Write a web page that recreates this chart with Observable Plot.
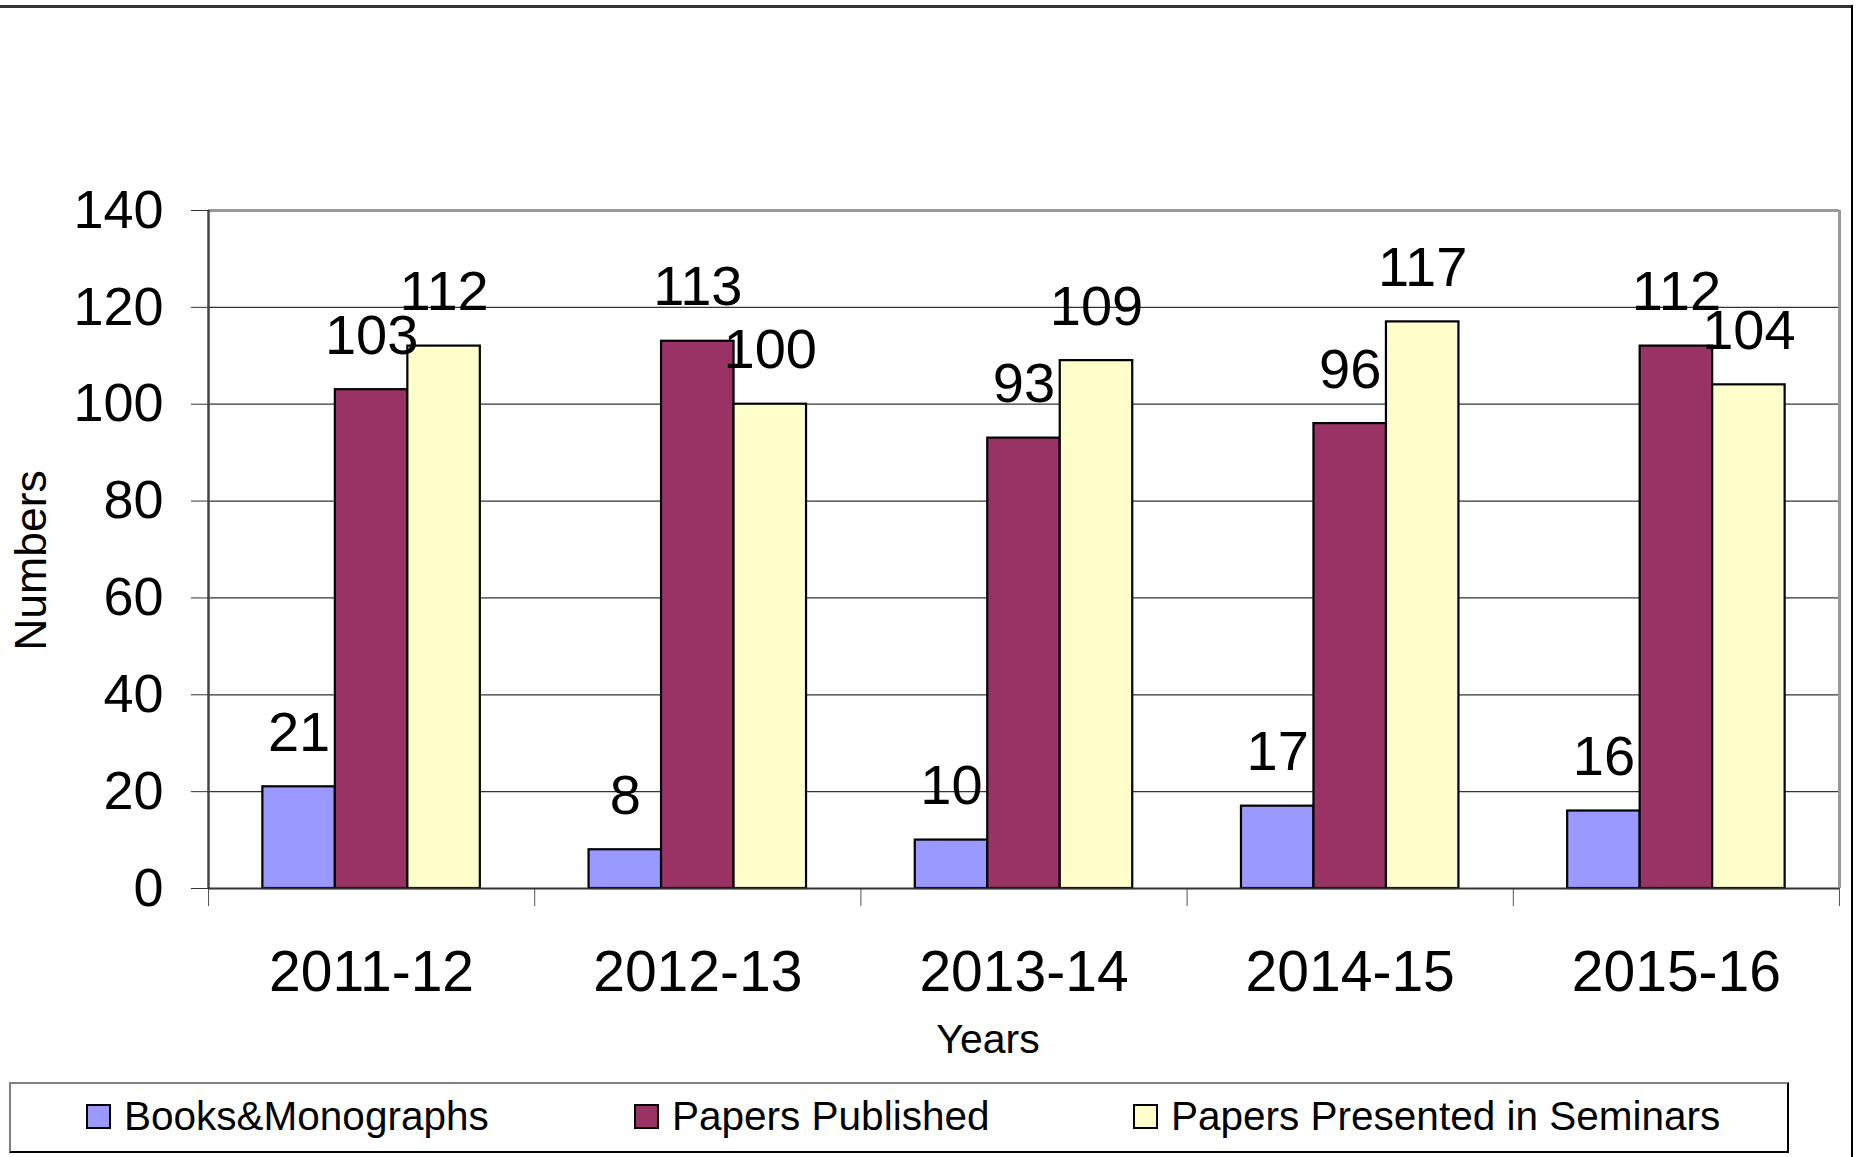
<!DOCTYPE html>
<html>
<head>
<meta charset="utf-8">
<script src="https://cdn.jsdelivr.net/npm/d3@7"></script>
<script src="https://cdn.jsdelivr.net/npm/@observablehq/plot@0.6"></script>
<style>
  html, body { margin: 0; padding: 0; background: #fff; }
  #wrap { position: relative; width: 1864px; height: 1157px; overflow: hidden; background: #fff;
          font-family: "Liberation Sans", Arial, sans-serif; }
  #wrap svg { display: block; position: absolute; left: 0; top: 0; }
  .topline { position: absolute; left: 0; top: 5px; width: 1853px; height: 0; border-top: 3px solid #333; }
  .rightline { position: absolute; left: 1851px; top: 5px; width: 0; height: 1160px; border-left: 2px solid #000; }
  #legend { position: absolute; left: 9px; top: 1082px; width: 1776px; height: 67px;
            border-top: 2px solid #808080; border-left: 2px solid #808080;
            border-right: 2px solid #000; border-bottom: 2px solid #000; background: #fff; }
  .item { position: absolute; top: -1px; height: 67px; display: flex; align-items: center;
          font-size: 40.5px; color: #000; white-space: nowrap; }
  .sw { width: 21px; height: 21px; border: 2px solid #000; margin-right: 13px; }
</style>
</head>
<body>
<div id="wrap"></div>
<script>
const years = ["2011-12", "2012-13", "2013-14", "2014-15", "2015-16"];
const seriesNames = ["Books&Monographs", "Papers Published", "Papers Presented in Seminars"];
const books = [21, 8, 10, 17, 16];
const published = [103, 113, 93, 96, 112];
const seminars = [112, 100, 109, 117, 104];
const colors = ["#9999FF", "#993366", "#FFFFCC"];
const yTicks = [0, 20, 40, 60, 80, 100, 120, 140];

const seriesValues = [books, published, seminars];
const rows = [];
years.forEach((year, yi) => {
  seriesValues.forEach((vals, si) => {
    rows.push({yi, si, year, series: seriesNames[si], value: vals[yi]});
  });
});

const barW = 2 / 9; // fraction of a year slot taken by one bar
const sepTicks = d3.range(years.length + 1).map(i => i - 0.5);

const chart = Plot.plot({
  width: 1864,
  height: 1075,
  marginLeft: 208,
  marginRight: 25,
  marginTop: 210,
  marginBottom: 187,
  x: {domain: [-0.5, years.length - 0.5]},
  y: {domain: [0, 140]},
  color: {domain: seriesNames, range: colors},
  style: {fontFamily: "Liberation Sans, Arial, sans-serif", color: "#000", background: "#fff"},
  marks: [
    Plot.ruleY(yTicks.filter(t => t > 0 && t < 140), {stroke: "#333", strokeWidth: 1.3}),
    Plot.ruleY([140], {stroke: "#999", strokeWidth: 3}),
    Plot.ruleX([years.length - 0.5], {y1: 0, y2: 140, stroke: "#999", strokeWidth: 3}),
    Plot.axisY({ticks: yTicks, tickSize: 17, tickPadding: 28, fontSize: 54, label: null, stroke: "#333"}),
    Plot.axisX(sepTicks, {tickSize: 18, tickFormat: () => "", label: null, stroke: "#555"}),
    Plot.axisX(d3.range(years.length), {tickSize: 0, tickPadding: 62, tickFormat: i => years[i], fontSize: 57, label: null}),
    Plot.rect(rows, {
      x1: d => d.yi + (d.si - 1.5) * barW,
      x2: d => d.yi + (d.si - 0.5) * barW,
      y1: 0,
      y2: "value",
      fill: "series",
      stroke: "#000",
      strokeWidth: 2.2
    }),
    Plot.ruleX([-0.5], {y1: 0, y2: 140, stroke: "#444", strokeWidth: 2.5}),
    Plot.ruleY([0], {stroke: "#333", strokeWidth: 2}),
    Plot.text(rows, {
      x: d => d.yi + (d.si - 1) * barW,
      y: "value",
      text: d => String(d.value),
      lineAnchor: "bottom",
      dy: -36,
      fontSize: 56,
      fill: "#000"
    }),
    Plot.text(["Numbers"], {frameAnchor: "left", textAnchor: "middle", text: d => d, dx: -177, dy: 11, rotate: -90, fontSize: 44.5, fill: "#000"}),
    Plot.text(["Years"], {frameAnchor: "bottom", text: d => d, dx: -36, dy: 164, fontSize: 41, fill: "#000"})
  ]
});

const wrap = document.getElementById("wrap");
wrap.appendChild(chart);

const topLine = document.createElement("div"); topLine.className = "topline"; wrap.appendChild(topLine);
const rightLine = document.createElement("div"); rightLine.className = "rightline"; wrap.appendChild(rightLine);

const legend = document.createElement("div");
legend.id = "legend";
const itemLefts = [75, 623, 1122];
seriesNames.forEach((name, i) => {
  const it = document.createElement("div");
  it.className = "item";
  it.style.left = itemLefts[i] + "px";
  const sw = document.createElement("div");
  sw.className = "sw";
  sw.style.background = colors[i];
  const tx = document.createElement("span");
  tx.textContent = name;
  it.appendChild(sw);
  it.appendChild(tx);
  legend.appendChild(it);
});
wrap.appendChild(legend);
</script>
</body>
</html>
